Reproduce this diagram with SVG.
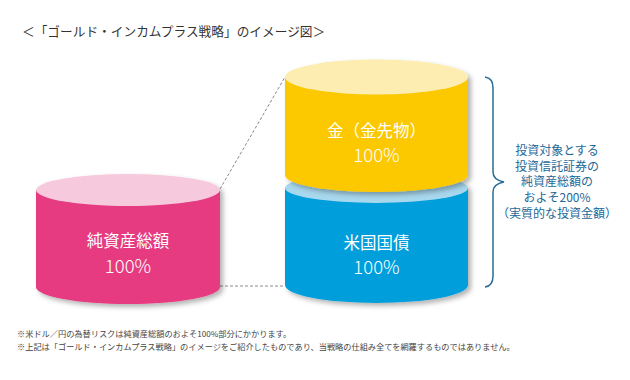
<svg xmlns="http://www.w3.org/2000/svg" width="630" height="380" viewBox="0 0 630 380">
<defs>
<filter id="sh" x="-20%" y="-20%" width="150%" height="150%">
<feDropShadow dx="3" dy="3" stdDeviation="2.5" flood-color="#000" flood-opacity="0.3"/>
</filter>
<style>
text{font-family:"Noto Sans CJK JP","Noto Sans",sans-serif}
.t{font-size:12.7px;fill:#333}
.lbl{font-size:16.5px;fill:#fff;text-anchor:middle}
.pct{font-size:18.5px;fill:#fff;text-anchor:middle;font-weight:300}
.br{font-size:12px;fill:#1d6898;text-anchor:middle}
.fn{font-size:8.2px;fill:#444}
.dash{stroke:#8a8a8a;stroke-width:1;stroke-dasharray:3 2;fill:none}
</style>
</defs>
<rect width="630" height="380" fill="#fff"/>
<text class="t" x="22" y="36">＜「ゴールド・インカムプラス戦略」のイメージ図＞</text>

<g id="connectors">
<line class="dash" x1="220" y1="189" x2="285" y2="77"/>
<line class="dash" x1="220" y1="286" x2="285" y2="286"/>
<path d="M485,77 Q493,78 493,88 L493,172 Q493,180 504,182 Q493,184 493,192 L493,276 Q493,286 485,287" fill="none" stroke="#2a6c96" stroke-width="1.5"/>
</g>

<g id="pink" filter="url(#sh)">
<path d="M36,190 L36,287 A92,17 0 0 0 220,287 L220,190 Z" fill="#e63a80"/>
<ellipse cx="128" cy="190" rx="92" ry="16" fill="#f6c9dc"/>
</g>
<text class="lbl" x="128" y="247">純資産総額</text>
<text class="pct" x="128" y="273">100%</text>

<g id="blue" filter="url(#sh)">
<path d="M285,188 L285,285 A91.5,18 0 0 0 468,285 L468,188 Z" fill="#009edb"/>
<ellipse cx="376.5" cy="188" rx="91.5" ry="15" fill="#a8d8ee"/>
</g>
<g id="gold" filter="url(#sh)">
<path d="M285,77 L285,175 A91.5,17 0 0 0 468,175 L468,77 Z" fill="#fcc800"/>
<ellipse cx="376.5" cy="77" rx="91.5" ry="17.5" fill="#fdedb0"/>
</g>
<text class="lbl" x="376.5" y="137">金（金先物）</text>
<text class="pct" x="376.5" y="162">100%</text>
<text class="lbl" x="376.5" y="249">米国国債</text>
<text class="pct" x="376.5" y="274">100%</text>

<g id="note">
<text class="br" x="557" y="154.5">投資対象とする</text>
<text class="br" x="557" y="170.5">投資信託証券の</text>
<text class="br" x="557" y="186">純資産総額の</text>
<text class="br" x="557" y="201.5">およそ200%</text>
<text class="br" x="557" y="217.5">（実質的な投資金額）</text>
</g>

<text class="fn" x="17" y="337">※米ドル／円の為替リスクは純資産総額のおよそ100%部分にかかります。</text>
<text class="fn" x="17" y="350">※上記は「ゴールド・インカムプラス戦略」のイメージをご紹介したものであり、当戦略の仕組み全てを網羅するものではありません。</text>
</svg>
